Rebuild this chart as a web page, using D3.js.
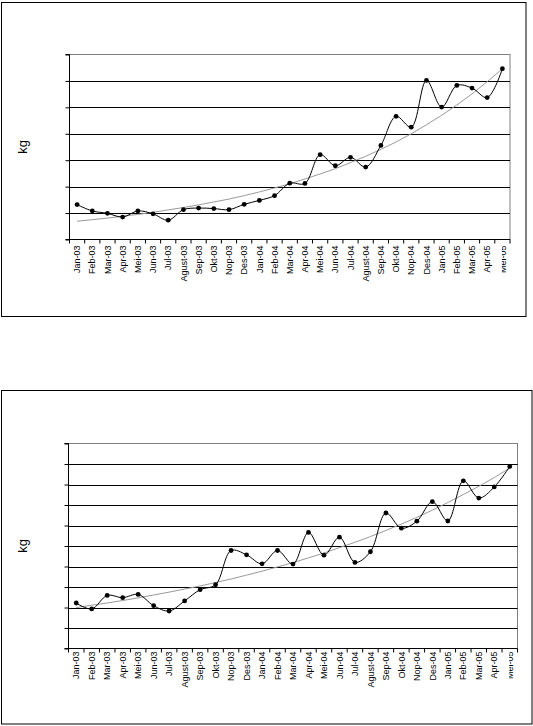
<!DOCTYPE html>
<html>
<head>
<meta charset="utf-8">
<script src="https://cdn.jsdelivr.net/npm/d3@7"></script>
<style>
  html, body { margin: 0; padding: 0; background: #fff; }
  svg { display: block; }
</style>
</head>
<body>
<svg id="chart" width="533" height="726"></svg>
<script>
// ---- DATA ----
const categories = ["Jan-03","Feb-03","Mar-03","Apr-03","Mei-03","Jun-03","Jul-03","Agust-03","Sep-03","Okt-03","Nop-03","Des-03",
  "Jan-04","Feb-04","Mar-04","Apr-04","Mei-04","Jun-04","Jul-04","Agust-04","Sep-04","Okt-04","Nop-04","Des-04",
  "Jan-05","Feb-05","Mar-05","Apr-05","Mei-05"];

const series1 = [1.32,1.08,0.99,0.85,1.08,0.97,0.73,1.13,1.19,1.17,1.13,1.33,
  1.48,1.66,2.13,2.12,3.21,2.79,3.11,2.74,3.56,4.66,4.25,6.02,
  5.01,5.83,5.73,5.37,6.46];
const trend1 = [0.69,0.75,0.81,0.88,0.95,1.03,1.12,1.21,1.31,1.42,1.53,1.66,
  1.80,1.95,2.11,2.29,2.48,2.68,2.91,3.15,3.41,3.69,4.00,4.34,
  4.70,5.09,5.51,5.97,6.46];

const series2 = [2.22,1.93,2.59,2.48,2.64,2.09,1.83,2.32,2.87,3.11,4.78,4.57,
  4.13,4.78,4.12,5.66,4.55,5.43,4.20,4.72,6.61,5.87,6.21,7.16,
  6.22,8.18,7.34,7.88,8.88];
const trend2 = [2.00,2.11,2.22,2.34,2.47,2.61,2.75,2.90,3.05,3.22,3.39,3.58,
  3.77,3.98,4.19,4.42,4.66,4.92,5.18,5.46,5.76,6.07,6.40,6.75,
  7.12,7.51,7.91,8.34,8.80];

const yTicks1 = [0,1,2,3,4,5,6,7];
const yTicks2 = [0,1,2,3,4,5,6,7,8,9,10];
const yLabel = "kg";

// ---- LAYOUT ----
const panels = [
  { box:{x:1.5,y:2.5,w:524.5,h:314}, plot:{l:69.5,r:510,t:54.5,b:239.5},
    yMax:7, ticks:yTicks1, values:series1, trend:trend1, labelGap:6, kgX:22 },
  { box:{x:1.5,y:390.5,w:530.5,h:333.5}, plot:{l:68.5,r:517.5,t:443.5,b:648.5},
    yMax:10, ticks:yTicks2, values:series2, trend:trend2, labelGap:3, kgX:22 }
];

const svg = d3.select("#chart");
const font = "'Liberation Sans', Arial, sans-serif";

panels.forEach((p, pi) => {
  const g = svg.append("g");
  // outer box
  g.append("rect").attr("x",p.box.x).attr("y",p.box.y).attr("width",p.box.w).attr("height",p.box.h)
    .attr("fill","#fff").attr("stroke","#000").attr("stroke-width",1);

  const x = d3.scaleBand().domain(categories).range([p.plot.l, p.plot.r]).paddingInner(0).paddingOuter(0);
  const y = d3.scaleLinear().domain([0, p.yMax]).range([p.plot.b, p.plot.t]);
  const cx = d => x(d) + x.bandwidth()/2;

  // plot area border (gray top & right)
  g.append("rect").attr("x",p.plot.l).attr("y",p.plot.t)
    .attr("width",p.plot.r-p.plot.l).attr("height",p.plot.b-p.plot.t)
    .attr("fill","none").attr("stroke","#808080").attr("stroke-width",1);

  // gridlines
  g.append("g").selectAll("line").data(p.ticks.filter(t => t > 0 && t < p.yMax)).join("line")
    .attr("x1",p.plot.l).attr("x2",p.plot.r)
    .attr("y1",d => Math.round(y(d))+0.5).attr("y2",d => Math.round(y(d))+0.5)
    .attr("stroke","#000").attr("stroke-width",1);

  // y axis (no labels)
  const yAxis = d3.axisLeft(y).tickValues(p.ticks).tickSize(4).tickFormat("");
  const ya = g.append("g").attr("transform",`translate(${p.plot.l},0)`).call(yAxis);
  ya.selectAll("path,line").attr("stroke","#000");
  ya.select(".domain").attr("d",`M-4,${p.plot.t}H0V${p.plot.b}H-4`);

  // x axis: ticks at category boundaries
  const xa = g.append("g").attr("transform",`translate(0,${p.plot.b})`);
  xa.append("line").attr("x1",p.plot.l).attr("x2",p.plot.r).attr("y1",0).attr("y2",0).attr("stroke","#000");
  const bounds = categories.map(c => x(c)).concat([p.plot.r]);
  xa.selectAll("line.tk").data(bounds).join("line").attr("class","tk")
    .attr("x1",d=>d).attr("x2",d=>d).attr("y1",0).attr("y2",4).attr("stroke","#000");

  const shown = categories.slice(0, -1);
  xa.selectAll("text").data(shown).join("text")
    .attr("transform", d => `translate(${cx(d)},${p.labelGap}) rotate(-90)`)
    .attr("text-anchor","end").attr("dy","0.35em")
    .attr("font-family",font).attr("font-size",9).attr("fill","#000")
    .text(d => d);

  // last label is truncated in the original: clip it to its right half
  const clipId = "clip"+pi;
  const last = categories[categories.length-1];
  const lastX = cx(last);
  svg.append("clipPath").attr("id",clipId).append("rect")
    .attr("x",lastX-0.5).attr("y",p.plot.b).attr("width",30).attr("height",80);
  g.append("g").attr("clip-path",`url(#${clipId})`)
    .append("text")
    .attr("transform",`translate(${lastX},${p.plot.b + p.labelGap}) rotate(-90)`)
    .attr("text-anchor","end").attr("dy","0.35em")
    .attr("font-family",font).attr("font-size",9).attr("fill","#000")
    .text(last);

  // kg label
  g.append("text")
    .attr("transform",`translate(${p.kgX},${(p.plot.t+p.plot.b)/2}) rotate(-90)`)
    .attr("text-anchor","middle").attr("dy","0.35em")
    .attr("font-family",font).attr("font-size",13).attr("fill","#000")
    .text(yLabel);

  // trend line (gray)
  const trendLine = d3.line().x((d,i) => cx(categories[i])).y(d => y(d));
  g.append("path").datum(p.trend).attr("d",trendLine)
    .attr("fill","none").attr("stroke","#9a9a9a").attr("stroke-width",1);

  // smoothed series line
  const line = d3.line().x((d,i) => cx(categories[i])).y(d => y(d)).curve(d3.curveCatmullRom.alpha(0.5));
  g.append("path").datum(p.values).attr("d",line)
    .attr("fill","none").attr("stroke","#000").attr("stroke-width",1);

  // markers
  g.append("g").selectAll("circle").data(p.values).join("circle")
    .attr("cx",(d,i) => cx(categories[i])).attr("cy",d => y(d)).attr("r",2.4)
    .attr("fill","#000");
});
</script>
</body>
</html>
